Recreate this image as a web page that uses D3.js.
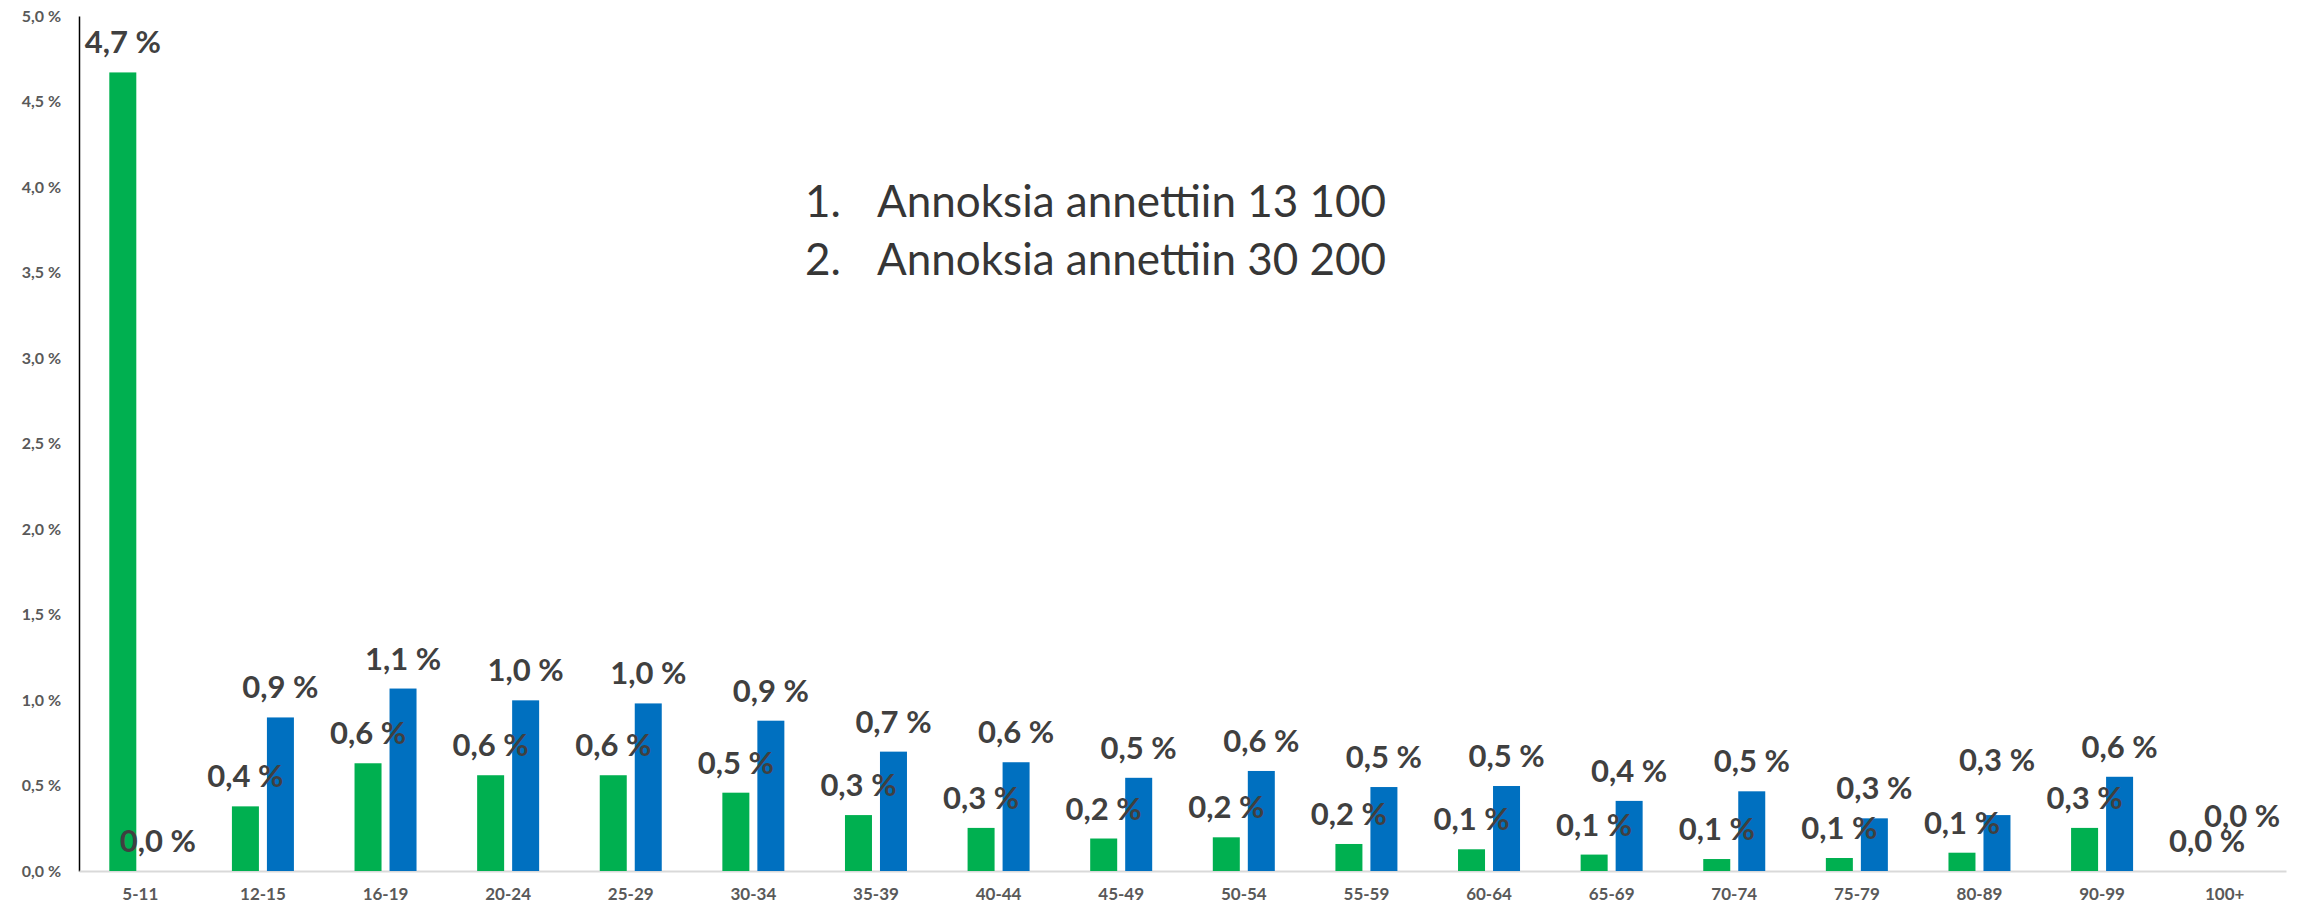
<!DOCTYPE html>
<html>
<head>
<meta charset="utf-8">
<script src="https://cdn.jsdelivr.net/npm/d3@7"></script>
<style>
  html, body { margin: 0; padding: 0; background: #fff; }
  svg { display: block; }
</style>
</head>
<body>
<div id="chart"></div>
<script>
// age groups and share (%) per dose
const categories = ["5-11", "12-15", "16-19", "20-24", "25-29", "30-34", "35-39", "40-44", "45-49",
  "50-54", "55-59", "60-64", "65-69", "70-74", "75-79", "80-89", "90-99", "100+"];
const dose1 = [4.67, 0.378, 0.63, 0.56, 0.56, 0.458, 0.327, 0.252, 0.19,
  0.197, 0.158, 0.127, 0.096, 0.07, 0.076, 0.107, 0.252, 0];
const dose2 = [0, 0.898, 1.067, 0.998, 0.98, 0.879, 0.698, 0.636, 0.545,
  0.585, 0.491, 0.497, 0.41, 0.466, 0.308, 0.327, 0.551, 0];
const yTicks = [0, 0.5, 1, 1.5, 2, 2.5, 3, 3.5, 4, 4.5, 5];
const notes = ["Annoksia annettiin 13 100", "Annoksia annettiin 30 200"];

const width = 2306, height = 907;
const colors = { dose1: "#00B050", dose2: "#0070C0" };

const svg = d3.select("#chart").append("svg")
  .attr("width", width)
  .attr("height", height);

const x = d3.scaleBand().domain(categories).range([79, 2286]);
const groupW = 62;
const x1 = d3.scaleBand().domain(["dose1", "dose2"])
  .range([(x.bandwidth() - groupW) / 2, (x.bandwidth() + groupW) / 2])
  .paddingInner(0.2286);
const y = d3.scaleLinear().domain([0, 5]).range([871, 16]);

const fmt = v => v.toFixed(1).replace(".", ",") + " %";

// y axis
const yAxis = svg.append("g")
  .attr("transform", "translate(79,0)")
  .call(d3.axisLeft(y).tickValues(yTicks).tickSize(0).tickPadding(18).tickFormat(fmt));
yAxis.select(".domain").attr("stroke", "#000").attr("stroke-width", 1.5);
yAxis.selectAll("text")
  .attr("fill", "#595959")
  .style("font", "bold 16px Lato");

// x axis
const xAxis = svg.append("g")
  .attr("transform", "translate(0,871)")
  .call(d3.axisBottom(x).tickSize(0).tickPadding(17));
xAxis.select(".domain").attr("stroke", "#d9d9d9").attr("stroke-width", 2);
xAxis.selectAll("text")
  .attr("fill", "#595959")
  .style("font", "bold 17px Lato");

// bars
const rows = categories.map((c, i) => ({ cat: c, dose1: dose1[i], dose2: dose2[i] }));
const groups = svg.append("g").selectAll("g")
  .data(rows)
  .join("g")
  .attr("transform", d => "translate(" + x(d.cat) + ",0)");

groups.selectAll("rect")
  .data(d => ["dose1", "dose2"].map(k => ({ key: k, value: d[k] })))
  .join("rect")
  .attr("x", d => x1(d.key))
  .attr("width", x1.bandwidth())
  .attr("y", d => y(d.value))
  .attr("height", d => y(0) - y(d.value))
  .attr("fill", d => colors[d.key]);

// data labels
const labels = groups.selectAll("text.lbl")
  .data(d => ["dose1", "dose2"].map(k => ({ key: k, value: d[k] })))
  .join("text")
  .attr("class", "lbl")
  .attr("x", d => x1(d.key) + x1.bandwidth() / 2)
  .attr("y", d => y(d.value) - 19)
  .attr("text-anchor", "middle")
  .attr("fill", "#404040")
  .style("font", "bold 31px Lato")
  .text(d => fmt(d.value));

// nudge a second label up when it collides with the first one
groups.each(function () {
  const t = d3.select(this).selectAll("text.lbl").nodes();
  const a = t[0].getBBox(), b = t[1].getBBox();
  const overlapX = a.x < b.x + b.width && b.x < a.x + a.width;
  const overlapY = a.y < b.y + b.height && b.y < a.y + a.height;
  if (overlapX && overlapY) {
    d3.select(t[1]).attr("y", +d3.select(t[1]).attr("y") - 25);
  }
});

// note text
const note = svg.append("g").attr("fill", "#363636")
  .style("font", "44px Lato");
notes.forEach((n, i) => {
  note.append("text").attr("x", 805).attr("y", 217 + i * 58).text((i + 1) + ".");
  note.append("text").attr("x", 877).attr("y", 217 + i * 58).text(n);
});
</script>
</body>
</html>
